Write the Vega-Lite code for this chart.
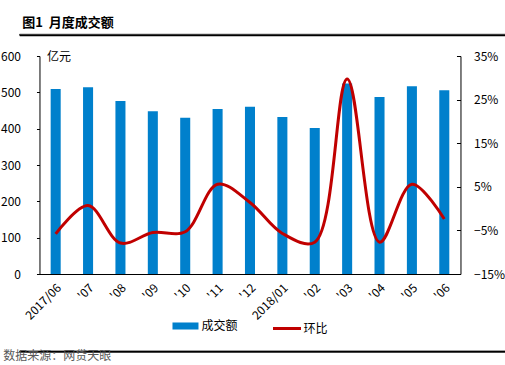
{
  "$schema": "https://vega.github.io/schema/vega-lite/v6.json",
  "background": "white",
  "padding": {"left": 0, "top": 16, "right": 0, "bottom": 0},
  "spacing": 14,
  "center": true,
  "resolve": {"scale": {"fill": "independent", "stroke": "independent"}, "legend": {"fill": "independent", "stroke": "independent"}},
  "config": {
    "font": "Noto Sans CJK SC",
    "view": {"stroke": null},
    "legend": {"layout": {"bottom": {"anchor": "middle", "direction": "horizontal", "margin": 33}}}
  },
  "vconcat": [
    {
      "width": 505,
      "height": 1,
      "title": {"text": "图1\u00a0\u00a0月度成交额", "anchor": "start", "fontSize": 13, "fontWeight": "bold", "color": "#000000", "offset": 4, "dx": 3},
      "view": {"stroke": "#000000", "strokeWidth": 0.8},
      "data": {"values": [{"sep": 0}]},
      "mark": {"type": "rule", "strokeOpacity": 0},
      "encoding": {"x": {"field": "sep", "type": "quantitative", "scale": {"domain": [0, 1]}, "axis": {"orient": "bottom", "title": null, "labels": false, "ticks": false, "grid": false, "domain": true, "domainColor": "#000000", "domainWidth": 1.3, "offset": 0}}}
    },
    {
      "width": 421,
      "height": 218,
      "data": {
        "values": [
          {"month": "2017/06", "amount": 509, "mom": -0.058},
          {"month": "'07", "amount": 514, "mom": 0.007},
          {"month": "'08", "amount": 476, "mom": -0.079},
          {"month": "'09", "amount": 448, "mom": -0.055},
          {"month": "'10", "amount": 430, "mom": -0.053},
          {"month": "'11", "amount": 454, "mom": 0.056},
          {"month": "'12", "amount": 460, "mom": 0.014},
          {"month": "2018/01", "amount": 432, "mom": -0.057},
          {"month": "'02", "amount": 402, "mom": -0.077},
          {"month": "'03", "amount": 524, "mom": 0.297},
          {"month": "'04", "amount": 487, "mom": -0.077},
          {"month": "'05", "amount": 517, "mom": 0.056},
          {"month": "'06", "amount": 506, "mom": -0.024}
        ]
      },
      "layer": [
        {
          "mark": {"type": "bar"},
          "encoding": {
            "x": {
              "field": "month", "type": "ordinal", "sort": null,
              "scale": {"paddingInner": 0.69, "paddingOuter": 0.345},
              "axis": {"title": null, "labelAngle": -45, "ticks": false, "labelPadding": 8, "domainColor": "#000000", "labelColor": "#000000", "labelFontSize": 12}
            },
            "y": {
              "field": "amount", "type": "quantitative",
              "scale": {"domain": [0, 600]},
              "axis": {"title": "亿元", "titleAngle": 0, "titleX": 7, "titleY": 0, "titleAlign": "left", "titleBaseline": "middle", "titleFontWeight": "normal", "titleFontSize": 12, "titleColor": "#000000", "values": [0, 100, 200, 300, 400, 500, 600], "grid": false, "tickSize": 3, "labelPadding": 16, "domainColor": "#000000", "tickColor": "#000000", "labelColor": "#000000", "labelFontSize": 12}
            },
            "fill": {
              "datum": "成交额",
              "scale": {"range": ["#0080CC"]},
              "legend": {"title": null, "orient": "bottom", "offset": -9, "symbolType": "M-1,-0.27H1V0.27H-1Z", "symbolSize": 676, "symbolStrokeWidth": 0, "labelFontSize": 12, "labelColor": "#000000", "labelOffset": 3}
            }
          }
        },
        {
          "mark": {"type": "line", "interpolate": "catmull-rom", "strokeWidth": 3},
          "encoding": {
            "x": {"field": "month", "type": "ordinal", "sort": null},
            "y": {
              "field": "mom", "type": "quantitative",
              "scale": {"domain": [-0.15, 0.35]},
              "axis": {"orient": "right", "title": null, "format": ".0%", "values": [-0.15, -0.05, 0.05, 0.15, 0.25, 0.35], "grid": false, "tickSize": -4, "labelPadding": 17, "domainColor": "#000000", "tickColor": "#000000", "labelColor": "#000000", "labelFontSize": 12}
            },
            "stroke": {
              "datum": "环比",
              "scale": {"range": ["#C00000"]},
              "legend": {"title": null, "orient": "bottom", "offset": -9, "symbolType": "stroke", "symbolSize": 784, "symbolStrokeWidth": 3, "labelFontSize": 12, "labelColor": "#000000", "labelOffset": 1}
            }
          }
        }
      ],
      "resolve": {"scale": {"y": "independent"}}
    },
    {
      "width": 505,
      "height": 1,
      "title": {"text": "数据来源：网贷天眼", "orient": "bottom", "anchor": "start", "fontSize": 12, "fontWeight": "normal", "color": "#595959", "offset": -1, "dx": -16},
      "view": {"stroke": "#000000", "strokeWidth": 0.8},
      "data": {"values": [{"sep": 0}]},
      "mark": {"type": "rule", "strokeOpacity": 0},
      "encoding": {"x": {"field": "sep", "type": "quantitative", "scale": {"domain": [0, 1]}, "axis": {"orient": "top", "title": null, "labels": false, "ticks": false, "grid": false, "domain": true, "domainColor": "#000000", "domainWidth": 1.3, "offset": 0}}}
    }
  ]
}
